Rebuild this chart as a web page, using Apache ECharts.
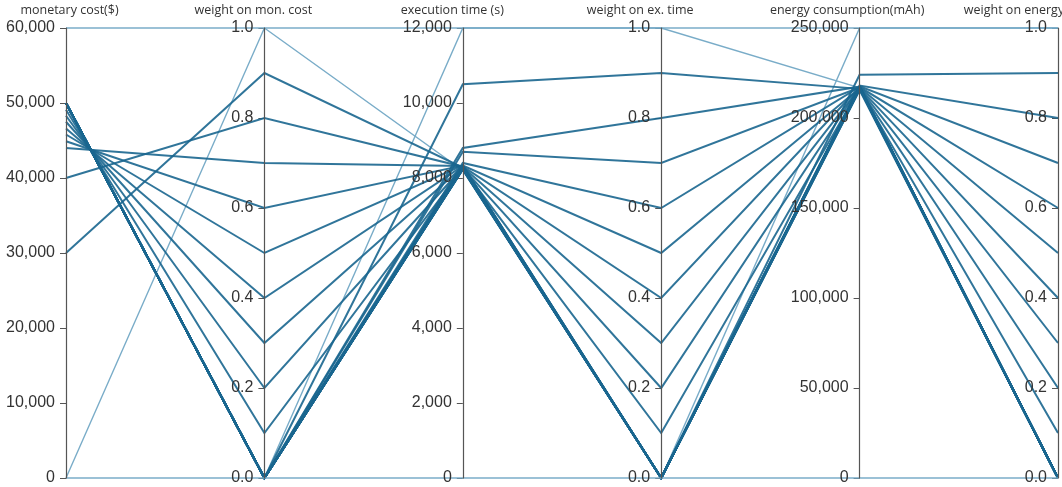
<!DOCTYPE html>
<html>
<head>
<meta charset="utf-8">
<script src="https://cdn.jsdelivr.net/npm/echarts@6/dist/echarts.min.js"></script>
<style>
  html, body { margin: 0; padding: 0; background: #ffffff; }
  #chart { width: 1062px; height: 487px; }
</style>
</head>
<body>
<div id="chart"></div>
<script>
// Axis titles, left to right
const dimensionNames = [
  'monetary cost($)', 'weight on mon. cost', 'execution time (s)',
  'weight on ex. time', 'energy consumption(mAh)', 'weight on energy'
];

// Weight levels swept for each objective (one run per level)
const weightLevels = [1.0, 0.9, 0.8, 0.7, 0.6, 0.5, 0.4, 0.3, 0.2, 0.1, 0.0];

// Runs sweeping the weight on monetary cost (other weights 0)
const costRunCost   = [0, 30000, 40000, 44000, 44900, 45800, 46600, 47500, 48300, 49100, 50000];
const costRunTime   = [8200, 8280, 8300, 8320, 8330, 8340, 8320, 8300, 8280, 8260, 8250];
const costRunEnergy = [217000, 216500, 217200, 216800, 217400, 216600, 217000, 216300, 217100, 216700, 216900];

// Runs sweeping the weight on execution time (other weights 0)
const timeRunCost   = [50000, 50000, 50000, 50000, 50000, 50000, 50000, 50000, 50000, 50000, 50000];
const timeRunTime   = [12000, 10500, 8800, 8700, 8400, 8330, 8310, 8290, 8270, 8250, 8230];
const timeRunEnergy = [216800, 216200, 217400, 216900, 217300, 216500, 217100, 216700, 217000, 216400, 216800];

// Runs sweeping the weight on energy (other weights 0)
const energyRunCost   = [50000, 50000, 50000, 50000, 50000, 50000, 50000, 50000, 50000, 50000, 50000];
const energyRunTime   = [8250, 8260, 8240, 8270, 8250, 8230, 8260, 8240, 8250, 8270, 8240];
const energyRunEnergy = [250000, 224000, 218000, 217600, 217200, 216900, 216600, 216300, 216000, 215800, 215500];

// Reference lines at the upper and lower ends of every axis
const upperBound = [60000, 1.0, 12000, 1.0, 250000, 1.0];
const lowerBound = [0, 0.0, 0, 0.0, 0, 0.0];

// Axis ranges and tick steps
const axisMax      = [60000, 1, 12000, 1, 250000, 1];
const axisInterval = [10000, 0.2, 2000, 0.2, 50000, 0.2];
// Horizontal nudge of each axis title
const namePadding  = [[0, 0, 0, 7], [0, 22, 0, 0], [0, 21, 0, 0], [0, 42, 0, 0], [0, 25, 0, 0], [0, 88, 0, 0]];

const DARK = '#19668f';
const LIGHT = '#72a8c5';
const AXIS_COLOR = '#555';

// Plot frame shared by the parallel axes and the tick overlays
const FRAME = { left: 66, right: 4, top: 28, bottom: 9, width: 1062 };
const axisSpacing = (FRAME.width - FRAME.left - FRAME.right) / (dimensionNames.length - 1);

const data = [];
function pushRun(values, w) {
  const light = w === 1.0;
  data.push({
    value: values,
    lineStyle: light
      ? { color: LIGHT, width: 1.4, opacity: 0.95 }
      : { color: DARK, width: 2, opacity: 0.9 }
  });
}
weightLevels.forEach((w, i) => {
  pushRun([costRunCost[i], w, costRunTime[i], 0, costRunEnergy[i], 0], w);
  pushRun([timeRunCost[i], 0, timeRunTime[i], w, timeRunEnergy[i], 0], w);
  pushRun([energyRunCost[i], 0, energyRunTime[i], 0, energyRunEnergy[i], w], w);
});
data.push({ value: upperBound, lineStyle: { color: LIGHT, width: 1.4, opacity: 0.95 } });
data.push({ value: lowerBound, lineStyle: { color: LIGHT, width: 1.4, opacity: 0.95 } });

// Small cartesian y axes aligned with each parallel axis, used for left-pointing tick marks
const tickGrids = dimensionNames.map((_, i) => ({
  left: FRAME.left + i * axisSpacing, width: 2,
  top: FRAME.top, bottom: FRAME.bottom, containLabel: false,
  outerBoundsMode: 'none'
}));
const tickXAxes = dimensionNames.map((_, i) => ({
  gridIndex: i, type: 'value', min: 0, max: 1,
  axisLine: { show: false }, axisTick: { show: false }, axisLabel: { show: false }, splitLine: { show: false }
}));
const tickYAxes = dimensionNames.map((_, i) => ({
  gridIndex: i, type: 'value', position: 'left',
  min: 0, max: axisMax[i], interval: axisInterval[i],
  axisLine: { show: false },
  axisTick: { show: true, length: 6, lineStyle: { color: AXIS_COLOR, width: 1 } },
  axisLabel: { show: false },
  splitLine: { show: false }
}));

const chart = echarts.init(document.getElementById('chart'), null, { renderer: 'canvas' });

chart.setOption({
  animation: false,
  backgroundColor: '#ffffff',
  grid: tickGrids,
  xAxis: tickXAxes,
  yAxis: tickYAxes,
  parallel: {
    left: FRAME.left, right: FRAME.right, top: FRAME.top, bottom: FRAME.bottom,
    parallelAxisDefault: {
      type: 'value',
      min: 0,
      nameLocation: 'end',
      nameGap: 11,
      nameTextStyle: { fontFamily: 'Open Sans', fontSize: 12.5, color: '#333' },
      axisLine: { lineStyle: { color: AXIS_COLOR, width: 1.2 } },
      axisTick: { show: false },
      axisLabel: {
        margin: -11, align: 'right', verticalAlign: 'middle',
        fontFamily: 'Liberation Sans', fontSize: 16, color: '#333'
      },
      splitLine: { show: false }
    }
  },
  parallelAxis: dimensionNames.map((name, i) => ({
    dim: i,
    name: name,
    max: axisMax[i],
    interval: axisInterval[i],
    nameTextStyle: { padding: namePadding[i] },
    axisLabel: axisMax[i] === 1 ? { formatter: v => v.toFixed(1) } : {}
  })),
  series: [{
    type: 'parallel',
    smooth: false,
    lineStyle: { color: DARK, width: 2, opacity: 0.9 },
    emphasis: { disabled: true },
    data: data
  }]
});
</script>
</body>
</html>
